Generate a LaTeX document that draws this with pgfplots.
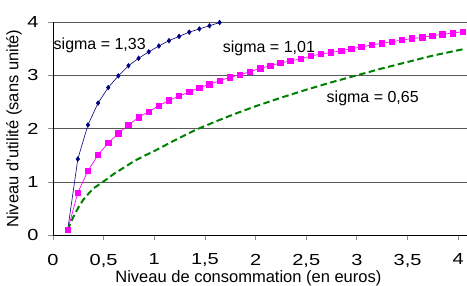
\documentclass[border=0pt]{standalone}
\usepackage{fontspec}
\setmainfont{Liberation Sans}
\newfontfamily\tickfont[FakeStretch=1.25]{Liberation Sans}
\usepackage{pgfplots}
\pgfplotsset{compat=1.18}
\definecolor{navyc}{RGB}{0,0,128}
\definecolor{magc}{RGB}{255,0,255}
\definecolor{greenc}{RGB}{0,128,0}
\begin{document}
\begin{tikzpicture}
\useasboundingbox (-53pt,-50.7pt) rectangle (414pt,235.3pt);
\begin{axis}[
  at={(0pt,0pt)}, anchor=south west,
  scale only axis, width=414pt, height=213.3pt,
  xmin=0, xmax=4.087, ymin=0, ymax=4,
  axis x line*=bottom, axis y line*=left,
  x axis line style={-, black, line width=0.8pt},
  y axis line style={-, black, line width=0.8pt},
  xtick={0,0.5,1,1.5,2,2.5,3,3.5,4},
  xticklabels={0,{0,5},1,{1,5},2,{2,5},3,{3,5},4},
  ytick={0,1,2,3,4},
  yticklabels={0,1,2,3,4},
  tick align=outside,
  major tick length=5pt,
  tick style={black!45, line width=0.8pt},
  ymajorgrids,
  grid style={black!65, line width=0.8pt},
  ticklabel style={font=\tickfont\fontsize{16}{19}\selectfont},
  xticklabel style={yshift=-10pt},
  yticklabel style={xshift=-6pt},
  xlabel={Niveau de consommation (en euros)},
  ylabel={Niveau d'utilité (sans unité)},
  label style={font=\fontsize{16.5}{19}\selectfont},
  xlabel style={at={([yshift=-42.5pt]axis description cs:0.472,0)}, anchor=center},
  ylabel style={at={([xshift=-39pt]axis description cs:0,0.5)}, anchor=center},
  clip=true,
]
\addplot[navyc, line width=0.6pt, mark=diamond*, mark size=2.3pt, mark options={fill=navyc, draw=navyc}] coordinates {
(0.145,0.10) (0.245,1.43) (0.345,2.07) (0.445,2.48) (0.545,2.77) (0.645,2.99)
(0.745,3.18) (0.845,3.32) (0.945,3.44) (1.045,3.55) (1.145,3.65) (1.245,3.73)
(1.345,3.81) (1.445,3.87) (1.545,3.93) (1.645,3.99)
};
\addplot[magc, line width=0.7pt, mark=square*, mark size=2.7pt, mark options={fill=magc, draw=magc}] coordinates {
(0.145,0.10) (0.245,0.80) (0.345,1.21) (0.445,1.51) (0.545,1.73) (0.645,1.91)
(0.745,2.07) (0.845,2.21) (0.945,2.32) (1.045,2.43) (1.145,2.53) (1.245,2.61)
(1.345,2.69) (1.445,2.77) (1.545,2.83) (1.645,2.90) (1.745,2.96) (1.845,3.01)
(1.945,3.07) (2.045,3.13) (2.145,3.18) (2.245,3.23) (2.345,3.27) (2.445,3.31)
(2.545,3.36) (2.645,3.40) (2.745,3.43) (2.845,3.46) (2.945,3.50) (3.045,3.53)
(3.145,3.57) (3.245,3.60) (3.345,3.63) (3.445,3.66) (3.545,3.69) (3.645,3.71)
(3.745,3.74) (3.845,3.77) (3.945,3.79) (4.045,3.82)
};
\addplot[greenc, line width=2pt, dash pattern=on 6.5pt off 3.5pt] coordinates {
(0.145,0.10) (0.175,0.24) (0.2,0.34) (0.25,0.52) (0.3,0.67) (0.35,0.78) (0.4,0.88)
(0.5,1.01) (0.6,1.15) (0.7,1.27) (0.8,1.39) (0.9,1.49) (1.0,1.58)
(1.2,1.78) (1.4,1.97) (1.6,2.13) (1.8,2.28) (2.0,2.42) (2.25,2.58)
(2.5,2.73) (2.75,2.87) (3.0,3.00) (3.25,3.13) (3.5,3.25) (3.75,3.37) (4.05,3.49)
};
\node[anchor=west, inner sep=0pt, font=\fontsize{16}{19}\selectfont] at (axis cs:0.005,3.57) {sigma = 1,33};
\node[anchor=west, inner sep=0pt, font=\fontsize{16}{19}\selectfont] at (axis cs:1.675,3.51) {sigma = 1,01};
\node[anchor=west, inner sep=0pt, font=\fontsize{16}{19}\selectfont] at (axis cs:2.70,2.57) {sigma = 0,65};
\end{axis}
\end{tikzpicture}
\end{document}
